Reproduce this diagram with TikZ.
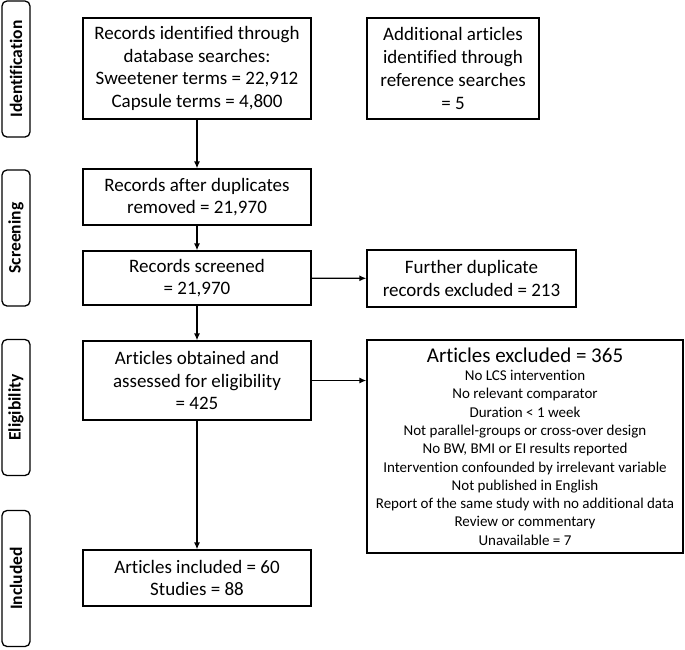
\documentclass[tikz,border=0pt]{standalone}
\usepackage{fontspec}
\setmainfont{Carlito}[Ligatures=NoCommon]
\usetikzlibrary{arrows.meta}
\begin{document}
\begin{tikzpicture}[x=1pt,y=-1pt]
    \tikzstyle{every node}=[draw,line width=1.3pt,align=center,inner sep=0pt];
    \tikzstyle{stagebox}=[rounded corners=5pt,minimum width=136pt,minimum height=28pt,rotate=90,font=\fontsize{17.5}{20}\selectfont\bfseries];
    \tikzstyle{flowbox}=[font=\fontsize{19}{22.7}\selectfont];
    \tikzstyle{flow}=[line width=1.3pt,-{Latex[length=7pt,width=6pt]}];
    \useasboundingbox (0,0) rectangle (685,649);
    %stages on the left
    \node[stagebox] (ident) at (16,69) {Identification};
    \node[stagebox] (screen) at (16,238) {Screening};
    \node[stagebox] (elig) at (16,407.5) {Eligibility};
    \node[stagebox] (incl) at (16,578.5) {Included};
    %main column
    \node[flowbox,minimum width=228pt,minimum height=101pt] (db) at (197,68.5) {Records identified through\\database searches:\\Sweetener terms = 22,912\\Capsule terms = 4,800};
    \node[flowbox,minimum width=172pt,minimum height=101pt] (refs) at (453,68.5) {Additional articles\\identified through\\reference searches\\= 5};
    \node[flowbox,minimum width=228pt,minimum height=56pt] (dup) at (197,197) {Records after duplicates\\removed = 21,970};
    \node[flowbox,minimum width=228pt,minimum height=54pt] (scr) at (197,278) {Records screened\\= 21,970};
    \node[flowbox,minimum width=209pt,minimum height=57pt] (fdup) at (471.5,278.5) {Further duplicate\\records excluded = 213};
    \node[flowbox,minimum width=228pt,minimum height=79pt] (full) at (197,380.5) {Articles obtained and\\assessed for eligibility\\= 425};
    \node[minimum width=316pt,minimum height=213pt,font=\fontsize{15}{18.3}\selectfont] (excl) at (525,446.5) {{\fontsize{21}{22}\selectfont Articles excluded = 365}\\No LCS intervention\\No relevant comparator\\Duration < 1 week\\Not parallel-groups or cross-over design\\No BW, BMI or EI results reported\\Intervention confounded by irrelevant variable\\Not published in English\\Report of the same study with no additional data\\Review or commentary\\Unavailable = 7};
    \node[flowbox,minimum width=228pt,minimum height=56pt] (inc) at (197,578) {Articles included = 60\\Studies = 88};


    \draw[flow] (db)--(dup);
    \draw[flow] (dup)--(scr);
    \draw[flow] (scr)--(full);
    \draw[flow] (full)--(inc);
    \draw[flow] (scr)--(fdup);
    \draw[flow] (full.east)--(full.east-|excl.west);
  \end{tikzpicture}
\end{document}
